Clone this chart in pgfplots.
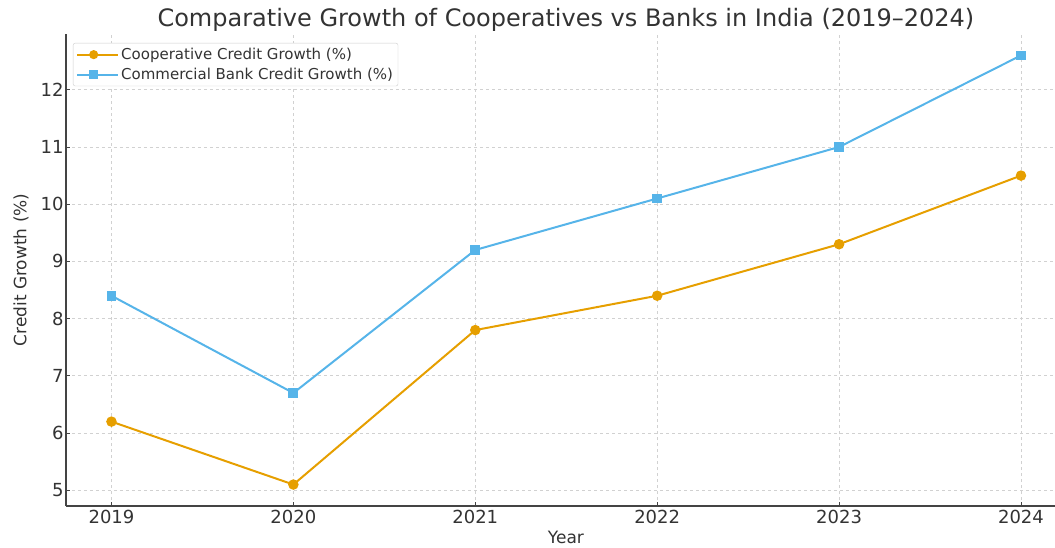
\documentclass[border=0pt]{standalone}
\usepackage{fontspec}
\setmainfont{DejaVu Sans}
\usepackage{pgfplots}
\pgfplotsset{compat=1.18}
\definecolor{coop}{HTML}{E69F00}
\definecolor{bank}{HTML}{56B4E9}
\definecolor{axgray}{HTML}{444444}
\definecolor{txtgray}{HTML}{333333}
\begin{document}
\begin{tikzpicture}
\path[use as bounding box] (-66pt,-41pt) rectangle (989pt,506pt);
\begin{axis}[
  scale only axis,
  width=989pt, height=472pt,
  xmin=2018.75, xmax=2024.187,
  ymin=4.725, ymax=12.975,
  axis x line*=bottom, axis y line*=left,
  axis line style={color=axgray, line width=1.4pt, -},
  xtick={2019,2020,2021,2022,2023,2024},
  ytick={5,6,7,8,9,10,11,12},
  tick align=inside,
  major tick length=4pt,
  tick style={color=axgray, line width=0.9pt},
  /pgf/number format/assume math mode=true,
  /pgf/number format/1000 sep={},
  ticklabel style={font=\fontsize{18}{21}\selectfont, text=txtgray},
  yticklabel style={xshift=1pt},
  xticklabel style={yshift=-1pt},
  grid=major,
  major grid style={color=black!18, dashed, line width=0.7pt},
  title={Comparative Growth of Cooperatives vs Banks in India (2019–2024)},
  title style={at={(0.5055,1)}, anchor=base, yshift=1pt, font=\fontsize{24}{28}\selectfont, text=txtgray},
  xlabel={Year},
  ylabel={Credit Growth (\%)},
  every axis x label/.style={at={(axis description cs:0.5055,0)}, anchor=center, yshift=-31pt, font=\fontsize{17}{20}\selectfont, text=txtgray},
  every axis y label/.style={at={(axis description cs:-0.0455,0.5)}, rotate=90, anchor=center, font=\fontsize{17}{20}\selectfont, text=txtgray},
  legend style={at={(0,1)}, anchor=north west, xshift=7pt, yshift=-9pt,
    draw=black!20, rounded corners=2pt, font=\fontsize{15}{18}\selectfont, text=txtgray,
    row sep=3pt, inner xsep=3pt, inner ysep=3pt},
  legend cell align=left,
  legend image code/.code={\path (0pt,0pt) -- (41pt,0pt); \draw[#1] (0pt,0pt) -- (33pt,0pt); \draw[#1, only marks, mark size=3.5pt] plot coordinates {(16.5pt,0pt)};},
]
\addplot[color=coop, line width=2pt, mark=*, mark size=4.2pt, mark options={solid}] coordinates {
  (2019,6.2) (2020,5.1) (2021,7.8) (2022,8.4) (2023,9.3) (2024,10.5)
};
\addlegendentry{Cooperative Credit Growth (\%)}
\addplot[color=bank, line width=2pt, mark=square*, mark size=3.9pt, mark options={solid}] coordinates {
  (2019,8.4) (2020,6.7) (2021,9.2) (2022,10.1) (2023,11.0) (2024,12.6)
};
\addlegendentry{Commercial Bank Credit Growth (\%)}
\end{axis}
\end{tikzpicture}
\end{document}
